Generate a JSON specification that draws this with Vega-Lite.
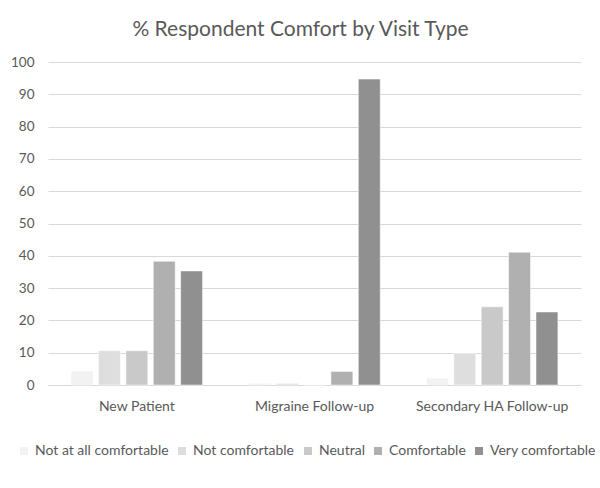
{
  "$schema": "https://vega.github.io/schema/vega-lite/v6.json",
  "width": 533,
  "height": 323,
  "autosize": {"type": "none"},
  "padding": {"left": 48, "top": 62, "right": 19, "bottom": 103},
  "background": "white",
  "title": {
    "text": "% Respondent Comfort by Visit Type",
    "font": "Lato",
    "fontSize": 21,
    "fontWeight": "normal",
    "color": "#595959",
    "anchor": "middle",
    "dx": -14,
    "offset": 15
  },
  "data": {
    "values": [
      {"visit": "New Patient", "comfort": "Not at all comfortable", "pct": 4.3},
      {"visit": "New Patient", "comfort": "Not comfortable", "pct": 10.6},
      {"visit": "New Patient", "comfort": "Neutral", "pct": 10.6},
      {"visit": "New Patient", "comfort": "Comfortable", "pct": 38.3},
      {"visit": "New Patient", "comfort": "Very comfortable", "pct": 35.3},
      {"visit": "Migraine Follow-up", "comfort": "Not at all comfortable", "pct": 0.5},
      {"visit": "Migraine Follow-up", "comfort": "Not comfortable", "pct": 0.5},
      {"visit": "Migraine Follow-up", "comfort": "Neutral", "pct": 0},
      {"visit": "Migraine Follow-up", "comfort": "Comfortable", "pct": 4.2},
      {"visit": "Migraine Follow-up", "comfort": "Very comfortable", "pct": 94.7},
      {"visit": "Secondary HA Follow-up", "comfort": "Not at all comfortable", "pct": 2.1},
      {"visit": "Secondary HA Follow-up", "comfort": "Not comfortable", "pct": 9.8},
      {"visit": "Secondary HA Follow-up", "comfort": "Neutral", "pct": 24.2},
      {"visit": "Secondary HA Follow-up", "comfort": "Comfortable", "pct": 41.1},
      {"visit": "Secondary HA Follow-up", "comfort": "Very comfortable", "pct": 22.6}
    ]
  },
  "mark": {"type": "bar", "stroke": "white", "strokeWidth": 0.5},
  "encoding": {
    "x": {
      "field": "visit",
      "type": "nominal",
      "sort": null,
      "scale": {"paddingInner": 0.26, "paddingOuter": 0.13},
      "axis": {
        "title": null,
        "labelAngle": 0,
        "labelFont": "Lato",
        "labelFontSize": 14,
        "labelColor": "#595959",
        "labelPadding": 14,
        "ticks": false,
        "domainColor": "#d9d9d9",
        "domainWidth": 1
      }
    },
    "xOffset": {
      "field": "comfort",
      "type": "nominal",
      "sort": ["Not at all comfortable", "Not comfortable", "Neutral", "Comfortable", "Very comfortable"],
      "scale": {"paddingInner": 0.2}
    },
    "y": {
      "field": "pct",
      "type": "quantitative",
      "scale": {"domain": [0, 100]},
      "axis": {
        "title": null,
        "values": [0, 10, 20, 30, 40, 50, 60, 70, 80, 90, 100],
        "labelFont": "Lato",
        "labelFontSize": 13.5,
        "labelColor": "#595959",
        "labelPadding": 14,
        "ticks": false,
        "domain": false,
        "gridColor": "#d9d9d9",
        "gridWidth": 1
      }
    },
    "color": {
      "field": "comfort",
      "type": "nominal",
      "sort": ["Not at all comfortable", "Not comfortable", "Neutral", "Comfortable", "Very comfortable"],
      "scale": {
        "domain": ["Not at all comfortable", "Not comfortable", "Neutral", "Comfortable", "Very comfortable"],
        "range": ["#f2f2f2", "#dedede", "#c9c9c9", "#b0b0b0", "#909090"]
      },
      "legend": {
        "title": null,
        "orient": "none",
        "direction": "horizontal",
        "columns": 5,
        "legendX": -31,
        "legendY": 382,
        "symbolType": "square",
        "symbolSize": 64,
        "symbolStrokeWidth": 0,
        "labelFont": "Lato",
        "labelFontSize": 14,
        "labelColor": "#595959",
        "labelOffset": 4,
        "columnPadding": 6
      }
    }
  },
  "config": {
    "view": {"stroke": null}
  }
}
